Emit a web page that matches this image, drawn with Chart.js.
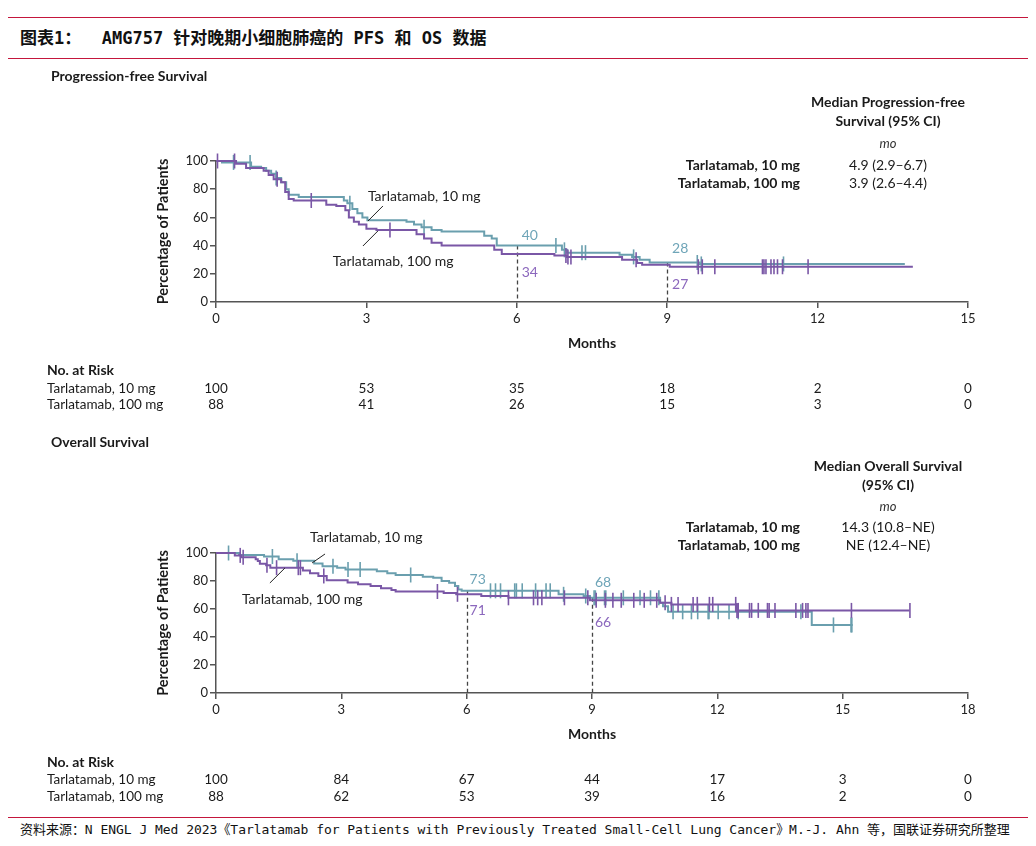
<!DOCTYPE html>
<html>
<head>
<meta charset="utf-8">
<script src="https://cdn.jsdelivr.net/npm/chart.js@4"></script>
<style>
body { margin: 0; background: #fff; width: 1036px; height: 846px; position: relative; overflow: hidden; }
.rule { position: absolute; left: 8px; width: 1020px; height: 0; border-top: 1.5px solid #c4163c; }
#title { position: absolute; left: 20px; top: 26px; font: bold 17px "DejaVu Sans Mono", "Noto Sans CJK SC"; color: #111; white-space: pre; line-height: 24px; }
#source { position: absolute; left: 20px; top: 821px; font: 13px "DejaVu Sans Mono", "Noto Sans CJK SC"; color: #111; white-space: pre; line-height: 18px; letter-spacing: -0.03px; }
canvas { position: absolute; left: 0; }
</style>
</head>
<body>
<div class="rule" style="top:17px"></div>
<div id="title">图表1：  AMG757 针对晚期小细胞肺癌的 PFS 和 OS 数据</div>
<div class="rule" style="top:58px"></div>
<canvas id="pfs" width="1036" height="360" style="top:60px"></canvas>
<canvas id="os" width="1036" height="390" style="top:425px"></canvas>
<div class="rule" style="top:817px"></div>
<div id="source">资料来源：N ENGL J Med 2023《Tarlatamab for Patients with Previously Treated Small-Cell Lung Cancer》M.-J. Ahn 等，国联证券研究所整理</div>
<script>
// Kaplan-Meier steps [month, % after the drop]
const pfsSteps10 = [[0,100],[0.12,99],[0.7,96],[0.9,95],[1.0,93],[1.1,91],[1.2,88],[1.3,85],[1.4,80],[1.45,76],[1.65,74.5],[2.55,72],[2.62,70],[2.72,66],[2.82,63],[2.92,60],[3.02,58],[3.8,57],[3.95,55],[4.1,53],[4.3,51],[4.5,50],[5.35,47],[5.5,45],[5.6,40],[6.9,37],[7.0,35],[8.05,33.5],[8.3,32],[8.45,30],[8.65,28],[9.65,27],[13.74,27]];
const pfsSteps100 = [[0,100],[0.4,98],[0.6,95],[0.95,93],[1.05,90],[1.15,87],[1.3,85],[1.38,78],[1.45,73],[1.55,72],[2.2,69],[2.4,68],[2.58,65],[2.65,60],[2.75,57],[2.85,55],[3.0,52],[3.2,51],[4.0,48],[4.15,45],[4.3,42],[4.5,40],[5.55,37],[5.7,34],[6.75,33],[7.0,32],[8.1,30],[8.4,27.7],[8.5,26.5],[9.05,25],[13.9,25]];
const pfsCensor10 = [0.35, 0.68, 1.2, 2.67, 4.15, 6.78, 6.95, 7.3, 7.37, 8.33, 9.6, 9.68, 11.32];
const pfsCensor100 = [0.03, 0.37, 1.22, 1.9, 3.47, 6.98, 7.02, 7.08, 8.38, 9.62, 9.7, 9.95, 10.9, 10.93, 10.97, 11.07, 11.13, 11.2, 11.3, 11.81];

const osSteps10 = [[0,100],[0.55,98.5],[1.15,97.5],[1.5,95.5],[1.85,94.5],[2.35,92.5],[2.55,90.5],[2.9,89.5],[3.1,88.3],[3.85,87],[4.1,85.5],[4.3,84.3],[4.95,83],[5.2,82.4],[5.4,80],[5.58,78.8],[5.72,76.4],[5.8,74],[5.88,73],[8.2,70.5],[8.8,69.3],[8.95,68],[10.63,64.5],[10.7,62],[10.82,58],[14.26,48.6],[15.24,48.6]];
const osSteps100 = [[0,100],[0.45,98.3],[0.6,97],[0.95,95.5],[1.0,94.3],[1.05,92.4],[1.2,91.2],[1.3,89.5],[2.08,87.5],[2.25,85.5],[2.45,83.6],[2.65,80.5],[3.15,79],[3.4,77.6],[3.7,76.4],[3.95,74.8],[4.2,73.6],[4.3,72.5],[5.45,71.5],[5.75,70.5],[6.35,69.3],[7.0,68],[8.95,66.2],[10.63,64.5],[10.9,63.3],[12.46,59],[16.6,59]];
const osCensor10 = [0.3, 1.35, 1.94, 2.8, 3.16, 3.45, 4.66, 6.57, 6.69, 6.81, 7.15, 7.19, 7.33, 7.65, 7.9, 8.0, 8.32, 8.85, 9.05, 9.08, 9.3, 9.33, 9.75, 10.15, 10.4, 10.6, 10.94, 11.17, 11.38, 11.53, 11.78, 11.8, 12.02, 12.28, 12.5, 14.0, 14.78, 15.2, 15.22];
const osCensor100 = [0.58, 0.65, 1.22, 1.45, 1.97, 2.02, 2.58, 5.3, 5.78, 7.0, 7.6, 7.7, 7.8, 8.34, 8.9, 9.1, 9.32, 9.5, 9.7, 10.0, 10.25, 10.55, 10.75, 10.9, 11.06, 11.42, 11.52, 11.81, 11.89, 12.44, 12.47, 12.5, 12.77, 12.82, 12.98, 13.2, 13.24, 13.38, 13.88, 14.04, 14.12, 14.17, 15.21, 16.61];

// landmark months and the percentages printed at them
const landmarkMonths = [6, 9];
const pfsLandmark10 = ["40", "28"];
const pfsLandmark100 = ["34", "27"];
const osLandmark10 = ["73", "68"];
const osLandmark100 = ["71", "66"];

// number at risk
const groups = ["Tarlatamab, 10 mg", "Tarlatamab, 100 mg"];
const pfsRiskMonths = [0, 3, 6, 9, 12, 15];
const pfsRisk10 = [100, 53, 35, 18, 2, 0];
const pfsRisk100 = [88, 41, 26, 15, 3, 0];
const osRiskMonths = [0, 3, 6, 9, 12, 15, 18];
const osRisk10 = [100, 84, 67, 44, 17, 3, 0];
const osRisk100 = [88, 62, 53, 39, 16, 2, 0];

// medians (95% CI)
const pfsMedian = ["4.9 (2.9\u20136.7)", "3.9 (2.6\u20134.4)"];
const osMedian = ["14.3 (10.8\u2013NE)", "NE (12.4\u2013NE)"];

const TEAL = "#6a9fae";
const PURPLE = "#7a57a6";
const TEAL_TXT = "#6fa5b8";
const PURPLE_TXT = "#8b67bd";
const FONT = "Lato, 'Liberation Sans', sans-serif";

function stepAt(steps, t) {
    let v = steps[0][1];
    steps.forEach(function (s) { if (s[0] <= t) v = s[1]; });
    return v;
}

function panelPlugin(p) {
    return {
        id: "panel-" + p.name,
        beforeDatasetsDraw(chart) {
            const ctx = chart.ctx, x = chart.scales.x, y = chart.scales.y;
            ctx.save();
            ctx.strokeStyle = "#444";
            ctx.lineWidth = 1.3;
            ctx.setLineDash([4, 3]);
            landmarkMonths.forEach(function (m) {
                const px = Math.round(x.getPixelForValue(m)) + 0.5;
                ctx.beginPath();
                ctx.moveTo(px, y.getPixelForValue(stepAt(p.steps10, m)));
                ctx.lineTo(px, y.getPixelForValue(0));
                ctx.stroke();
            });
            ctx.restore();
        },
        afterDraw(chart) {
            const ctx = chart.ctx, x = chart.scales.x, y = chart.scales.y;
            const g = function (gy) { return gy - p.top; }; // page y -> canvas y
            ctx.save();
            ctx.textBaseline = "middle";
            ctx.fillStyle = "#1a1a1a";

            // panel title
            ctx.font = "bold 14px " + FONT;
            ctx.textAlign = "left";
            ctx.fillText(p.title, 51, g(p.titleY));

            // median table
            ctx.textAlign = "center";
            p.head.forEach(function (h, i) { ctx.fillText(h, 888, g(p.headY[i])); });
            ctx.font = "italic 13px " + FONT;
            ctx.fillStyle = "#333";
            ctx.fillText("mo", 888, g(p.moY));
            groups.forEach(function (grp, i) {
                ctx.fillStyle = "#1a1a1a";
                ctx.font = "bold 14px " + FONT;
                ctx.textAlign = "right";
                ctx.fillText(grp, 800, g(p.rowY[i]));
                ctx.font = "14px " + FONT;
                ctx.textAlign = "center";
                ctx.fillText(p.median[i], 888, g(p.rowY[i]));
            });

            // curve labels with leader lines
            ctx.font = "14px " + FONT;
            ctx.textAlign = "left";
            ctx.fillStyle = "#222";
            ctx.strokeStyle = "#222";
            ctx.lineWidth = 1;
            p.notes.forEach(function (n) {
                ctx.fillText(n.text, x.getPixelForValue(n.at[0]), y.getPixelForValue(n.at[1]));
                ctx.beginPath();
                ctx.moveTo(x.getPixelForValue(n.line[0]), y.getPixelForValue(n.line[1]));
                ctx.lineTo(x.getPixelForValue(n.line[2]), y.getPixelForValue(n.line[3]));
                ctx.stroke();
            });

            // landmark values
            ctx.textAlign = "center";
            landmarkMonths.forEach(function (m, i) {
                const px = x.getPixelForValue(m) + p.lmDx;
                ctx.fillStyle = TEAL_TXT;
                ctx.fillText(p.lm10[i], px, y.getPixelForValue(p.lmY10[i]));
                ctx.fillStyle = PURPLE_TXT;
                ctx.fillText(p.lm100[i], px, y.getPixelForValue(p.lmY100[i]));
            });

            // number at risk
            ctx.fillStyle = "#1a1a1a";
            ctx.font = "bold 14px " + FONT;
            ctx.textAlign = "left";
            ctx.fillText("No. at Risk", 47, g(p.riskY[0]));
            ctx.font = "13.5px " + FONT;
            [p.risk10, p.risk100].forEach(function (row, r) {
                ctx.textAlign = "left";
                ctx.fillText(groups[r], 47, g(p.riskY[r + 1]));
                ctx.textAlign = "center";
                row.forEach(function (n, i) {
                    ctx.fillText(String(n), x.getPixelForValue(p.riskMonths[i]), g(p.riskY[r + 1]));
                });
            });
            ctx.restore();
        },
    };
}

function curve(steps, color) {
    return {
        data: steps.map(function (s) { return { x: s[0], y: s[1] }; }),
        borderColor: color,
        borderWidth: 2,
        stepped: true,
        pointRadius: 0,
        fill: false,
        clip: false,
    };
}

function censors(times, steps, color) {
    return {
        data: times.map(function (t) { return { x: t, y: stepAt(steps, t) }; }),
        showLine: false,
        pointStyle: "line",
        pointRotation: 90,
        pointRadius: 7.5,
        pointBorderColor: color,
        pointBorderWidth: 1.6,
        clip: false,
    };
}

function kmChart(id, p) {
    const axisColor = "#555";
    return new Chart(document.getElementById(id).getContext("2d"), {
        type: "line",
        data: {
            datasets: [
                censors(p.cens100, p.steps100, PURPLE),
                curve(p.steps100, PURPLE),
                censors(p.cens10, p.steps10, TEAL),
                curve(p.steps10, TEAL),
            ],
        },
        options: {
            responsive: false,
            animation: false,
            events: [],
            layout: { padding: { left: 155, right: 68, top: p.padTop, bottom: p.padBottom } },
            plugins: {
                legend: false,
                tooltip: { enabled: false },
            },
            scales: {
                x: {
                    type: "linear",
                    min: 0,
                    max: p.xMax,
                    afterFit: function (s) { s.height = 50; },
                    ticks: { stepSize: 3, color: "#222", font: { family: FONT, size: 13 }, padding: 3, maxRotation: 0 },
                    grid: { drawOnChartArea: false, drawTicks: true, tickLength: 6, color: axisColor, lineWidth: 1.5 },
                    border: { display: true, color: axisColor, width: 1.5 },
                    title: { display: true, text: "Months", color: "#1a1a1a", font: { family: FONT, size: 14, weight: "bold" }, padding: 0 },
                },
                y: {
                    min: 0,
                    max: 100,
                    afterFit: function (s) { s.width = 61; },
                    ticks: { stepSize: 20, color: "#222", font: { family: FONT, size: 13 }, padding: 2 },
                    grid: { drawOnChartArea: false, drawTicks: true, tickLength: 6, color: axisColor, lineWidth: 1.5 },
                    border: { display: true, color: axisColor, width: 1.5 },
                    title: { display: true, text: "Percentage of Patients", color: "#1a1a1a", font: { family: FONT, size: 14.5, weight: "bold" }, padding: 0 },
                },
            },
        },
        plugins: [panelPlugin(p)],
    });
}

kmChart("pfs", {
    name: "pfs", top: 60, padTop: 101, padBottom: 68, xMax: 15,
    steps10: pfsSteps10, steps100: pfsSteps100, cens10: pfsCensor10, cens100: pfsCensor100,
    title: "Progression-free Survival", titleY: 76,
    head: ["Median Progression-free", "Survival (95% CI)"], headY: [102, 121], moY: 144, rowY: [165, 183],
    median: pfsMedian,
    notes: [
        { text: "Tarlatamab, 10 mg", at: [3.03, 74.5], line: [3.33, 68.1, 3.03, 57.4] },
        { text: "Tarlatamab, 100 mg", at: [2.33, 28.4], line: [3.23, 50.4, 2.93, 39.7] },
    ],
    lm10: pfsLandmark10, lm100: pfsLandmark100, lmDx: 13, lmY10: [47.5, 38.3], lmY100: [20.6, 12.1],
    riskY: [370, 389, 405], riskMonths: pfsRiskMonths, risk10: pfsRisk10, risk100: pfsRisk100,
});

kmChart("os", {
    name: "os", top: 425, padTop: 128, padBottom: 72, xMax: 18,
    steps10: osSteps10, steps100: osSteps100, cens10: osCensor10, cens100: osCensor100,
    title: "Overall Survival", titleY: 442,
    head: ["Median Overall Survival", "(95% CI)"], headY: [466, 485], moY: 507, rowY: [527, 545],
    median: osMedian,
    notes: [
        { text: "Tarlatamab, 10 mg", at: [2.25, 111.4], line: [2.61, 99.3, 2.3, 92.9] },
        { text: "Tarlatamab, 100 mg", at: [0.62, 67.1], line: [1.65, 89.3, 1.29, 78.6] },
    ],
    lm10: osLandmark10, lm100: osLandmark100, lmDx: 11, lmY10: [81.4, 78.8], lmY100: [58.6, 50.2],
    riskY: [762, 780, 797], riskMonths: osRiskMonths, risk10: osRisk10, risk100: osRisk100,
});
</script>
</body>
</html>
